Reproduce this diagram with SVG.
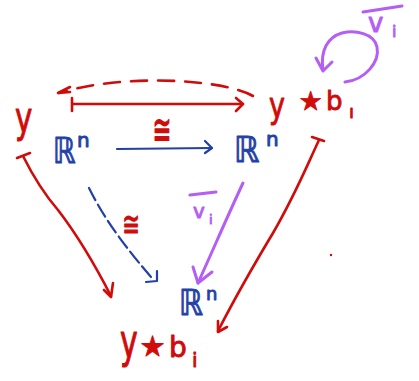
<svg xmlns="http://www.w3.org/2000/svg" width="419" height="381" viewBox="0 0 419 381">
<style>
text{font-family:"DejaVu Sans","Noto Sans",sans-serif;stroke-width:0.9;stroke-linejoin:round}
.r{fill:#d10a0a;stroke:#d10a0a}.b{fill:#2340a8;stroke:#2340a8}.p{fill:#b45ef5;stroke:#b45ef5}
.rs{stroke:#d10a0a;fill:none;stroke-width:2.6;stroke-linecap:round;stroke-linejoin:round}
.bs{stroke:#2340a8;fill:none;stroke-width:2.2;stroke-linecap:round;stroke-linejoin:round}
.ps{stroke:#b45ef5;fill:none;stroke-width:3;stroke-linecap:round;stroke-linejoin:round}
</style>
<rect width="419" height="381" fill="#fff"/>
<g id="connectors">
  <path class="rs" d="M253,96 C220,78 120,74 59,93" stroke-dasharray="16 11"/>
  <path class="rs" d="M70,87 L58,93 L70,92"/>
  <path class="rs" d="M72,98 L72,111 M72,104 L243,104"/>
  <path class="rs" d="M236,98 L243,104 L236,111"/>
  <path class="bs" d="M117,149 L212,148"/>
  <path class="bs" d="M205,141 L212,148 L205,153"/>
  <path class="bs" d="M89,188 C100,210 115,235 151,277" stroke-dasharray="14 5"/>
  <path class="bs" d="M146,282 L157,281 L157,271"/>
  <path class="ps" d="M243,183 C228,215 213,250 198,283"/>
  <path class="ps" d="M193,267 L198,283 L212,272"/>
  <path class="ps" d="M345,82 C365,80 380,62 377,47 C374,33 355,30 342,33 C328,37 320,50 323,70"/>
  <path class="ps" d="M316,58 L323,71 L332,62"/>
  <path class="rs" d="M17,158 L30,153 M23,156 C35,180 45,195 58,210 C75,232 95,265 111,296"/>
  <path class="rs" d="M104,290 L111,297 L113,283"/>
  <path class="rs" d="M312,137 L324,141 M319,140 C305,170 295,195 273,233 C258,258 240,288 218,331"/>
  <path class="rs" d="M218,321 L218,332 L227,327"/>
  <circle cx="331" cy="255" r="1.2" fill="#d10a0a"/>
</g>
<g id="node-y">
  <text class="r" font-size="42" transform="translate(15,132) scale(0.7,1)">y</text>
</g>
<g id="node-Rn-left">
  <text class="b" font-size="36" transform="translate(53,163) scale(0.8,1)">ℝ</text>
  <text class="b" x="77" y="147" font-size="20">n</text>
</g>
<g id="node-Rn-right">
  <text class="b" font-size="36" transform="translate(234,162) scale(0.9,1)">ℝ</text>
  <text class="b" x="266" y="146" font-size="20">n</text>
</g>
<g id="node-Rn-bottom">
  <text class="b" font-size="36" transform="translate(179,315) scale(0.85,1)">ℝ</text>
  <text class="b" x="206" y="300" font-size="18">n</text>
</g>
<g id="node-y-b1">
  <text class="r" font-size="36" transform="translate(269,118) scale(0.75,1)">y</text>
  <text class="r" x="299" y="110" font-size="26">★</text>
  <text class="r" x="326" y="110" font-size="26">b</text>
  <text class="r" x="349" y="118" font-size="18">ı</text>
</g>
<g id="node-y-bi">
  <text class="r" font-size="40" transform="translate(120,357) scale(0.75,1.15)">y</text>
  <text class="r" x="140" y="356" font-size="28">★</text>
  <text class="r" x="169" y="357" font-size="28">b</text>
  <text class="r" x="192" y="367" font-size="20">i</text>
</g>
<g id="labels">
  <text class="r" font-size="28" transform="translate(162,144) scale(0.8,1.5)" text-anchor="middle">≅</text>
  <text class="r" font-size="26" transform="translate(131,236) scale(0.8,1.3)" text-anchor="middle">≅</text>
  <path class="ps" d="M190,195 L216,192"/>
  <text class="p" x="193" y="218" font-size="20">v</text>
  <text class="p" x="209" y="224" font-size="13">i</text>
  <path class="ps" d="M363,12 L402,6"/>
  <text class="p" x="368" y="32" font-size="26">v</text>
  <text class="p" x="392" y="37" font-size="16">i</text>
</g>
</svg>
